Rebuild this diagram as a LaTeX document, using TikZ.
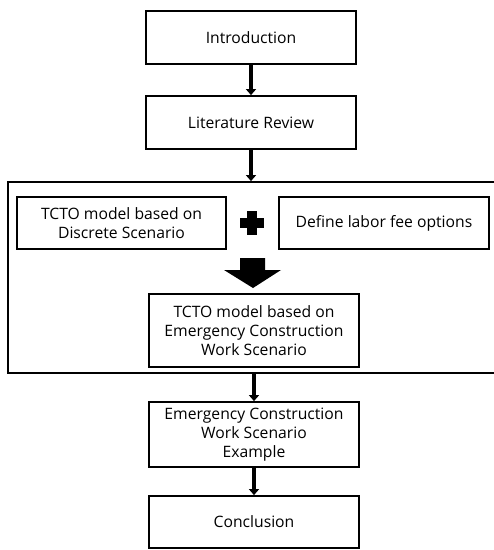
\documentclass[tikz,border=0pt]{standalone}
\usepackage{fontspec}
\setmainfont{Open Sans}
\usetikzlibrary{arrows.meta}
\tikzset{box/.style={draw,line width=1.8pt,minimum width=210pt,inner sep=0pt,align=center,font=\fontsize{15.7}{19}\selectfont},
         flow/.style={line width=4.5pt,-{Triangle[width=10pt,length=6pt]}}}

\begin{document}
\begin{tikzpicture}[x=1pt,y=-1pt]
        \useasboundingbox (0,0) rectangle (494,550);
        \clip (0,0) rectangle (494,550);
        \node[box,minimum height=53pt] (intro) at (251,37.5) {Introduction};
        \node[box,minimum height=53pt] (lit) at (251,122.5) {Literature Review};
        \node[draw,line width=1.8pt,minimum width=489pt,minimum height=191pt,inner sep=0pt] (frame) at (252.5,277.5) {};
        \node[box,minimum width=209pt,minimum height=52pt] (tcto) at (121.5,223) {TCTO model based on\\Discrete Scenario};
        \node[box,minimum height=52pt] (labor) at (384,223) {Define labor fee options};
        \node[box,minimum height=73pt] (tctoemc) at (254,330.5) {TCTO model based on\\Emergency Construction\\Work Scenario};
        \node[box,minimum height=65pt] (example) at (254,434.5) {Emergency Construction\\Work Scenario\\Example};
        \node[box,minimum height=52pt] (concl) at (254,522) {Conclusion};
        % plus sign between the two upper boxes
        \coordinate (plus) at (252,223);
        \fill (plus) ++(-12,-5) rectangle ++(24,10);
        \fill (plus) ++(-5,-12) rectangle ++(10,24);
        % big arrow down to the combined model
        \fill (240,258) -- (265,258) -- (265,270) -- (281,270) -- (253,288) -- (224,270) -- (240,270) -- cycle;
        \draw[flow] (intro.south) -- (lit.north);
        \draw[flow] (lit.south) -- (lit.south |- frame.north);
        \draw[flow] (example.north |- frame.south) -- (example.north);
        \draw[flow] (example.south) -- (concl.north);
\end{tikzpicture}
\end{document}
